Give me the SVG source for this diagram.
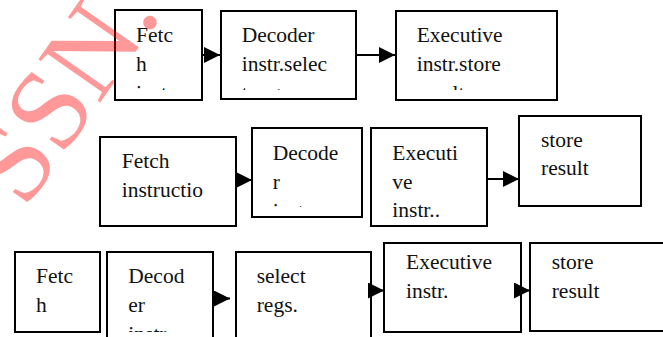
<svg xmlns="http://www.w3.org/2000/svg" width="663" height="337" viewBox="0 0 663 337">
<style>
.box{fill:#fff;stroke:#000;stroke-width:2}
.t{font-family:"Liberation Serif","Times New Roman",serif;font-size:21.5px;fill:#111}
.c{fill:none;stroke:#000;stroke-width:2}
.wm{font-family:"Liberation Serif","Times New Roman",serif;font-size:115px;fill:#ff0000;fill-opacity:0.4}
</style>
<defs>
<marker id="ah" markerUnits="userSpaceOnUse" markerWidth="16" markerHeight="16" refX="16" refY="8" orient="auto">
<path d="M0,0 L16,8 L0,16 Z" fill="#000"/>
</marker>
<clipPath id="c11"><rect x="116" y="11" width="85" height="79"/></clipPath>
<clipPath id="c12"><rect x="222" y="12" width="133" height="78"/></clipPath>
<clipPath id="c13"><rect x="397" y="12" width="159" height="78"/></clipPath>
<clipPath id="c21"><rect x="101" y="138" width="134" height="78"/></clipPath>
<clipPath id="c22"><rect x="253" y="129" width="108" height="78"/></clipPath>
<clipPath id="c23"><rect x="372" y="129" width="114" height="90"/></clipPath>
<clipPath id="c32"><rect x="108" y="253" width="104" height="79"/></clipPath>
</defs>
<rect width="663" height="337" fill="#fff"/>
<g id="row1-fetch">
<rect class="box" x="115" y="10" width="87" height="90"/>
<g clip-path="url(#c11)"><text class="t" x="136" y="41.7">Fetc</text><text class="t" x="136" y="70.7">h</text><text class="t" x="136" y="99.7">instr.</text></g>
</g>
<g id="row1-decoder">
<rect class="box" x="221" y="11" width="135" height="88"/>
<g clip-path="url(#c12)"><text class="t" x="241.7" y="41.7">Decoder</text><text class="t" x="241.7" y="70.7">instr.selec</text><text class="t" x="241.7" y="99.7">t regs.</text></g>
</g>
<g id="row1-executive">
<rect class="box" x="396" y="11" width="161" height="89"/>
<g clip-path="url(#c13)"><text class="t" x="416.7" y="41.7">Executive</text><text class="t" x="416.7" y="70.7">instr.store</text><text class="t" x="416.7" y="99.7">result</text></g>
</g>
<g id="row2-fetch">
<rect class="box" x="100" y="137" width="136" height="89"/>
<g clip-path="url(#c21)"><text class="t" x="121.7" y="168.3">Fetch</text><text class="t" x="121.7" y="196.5">instructio</text><text class="t" x="121.7" y="225.5">n</text></g>
</g>
<g id="row2-decoder">
<rect class="box" x="252" y="128" width="110" height="89"/>
<g clip-path="url(#c22)"><text class="t" x="272.7" y="160">Decode</text><text class="t" x="272.7" y="189.3">r</text><text class="t" x="272.7" y="217.5">instr..</text></g>
</g>
<g id="row2-executive">
<rect class="box" x="371" y="128" width="116" height="98"/>
<g clip-path="url(#c23)"><text class="t" x="392.3" y="160">Executi</text><text class="t" x="392.3" y="189">ve</text><text class="t" x="392.3" y="217">instr..</text></g>
</g>
<g id="row2-store">
<rect class="box" x="519" y="116" width="122" height="90"/>
<text class="t" x="541" y="146.7">store</text><text class="t" x="541" y="175">result</text>
</g>
<g id="row3-fetch">
<rect class="box" x="15" y="252" width="85" height="80"/>
<text class="t" x="36" y="283.3">Fetc</text><text class="t" x="36" y="312.3">h</text>
</g>
<g id="row3-decoder">
<rect class="box" x="107" y="252" width="106" height="100"/>
<g clip-path="url(#c32)"><text class="t" x="128.3" y="283.3">Decod</text><text class="t" x="128.3" y="312.3">er</text><text class="t" x="128.3" y="341.3">instr.</text></g>
</g>
<g id="row3-select">
<rect class="box" x="236" y="252" width="135" height="100"/>
<text class="t" x="256.7" y="283.3">select</text><text class="t" x="256.7" y="312.3">regs.</text>
</g>
<g id="row3-executive">
<rect class="box" x="384" y="243" width="137" height="89"/>
<text class="t" x="406" y="269">Executive</text><text class="t" x="406" y="297.5">instr.</text>
</g>
<g id="row3-store">
<rect class="box" x="530" y="243" width="140" height="88"/>
<text class="t" x="551.7" y="269">store</text><text class="t" x="551.7" y="297.5">result</text>
</g>
<g id="connectors">
<path class="c" d="M202,55 L220,55" marker-end="url(#ah)"/>
<path class="c" d="M356,55 L395,55" marker-end="url(#ah)"/>
<path class="c" d="M236,180 L252,180" marker-end="url(#ah)"/>
<path class="c" d="M487,179 L519,179" marker-end="url(#ah)"/>
<path class="c" d="M213,298.5 L230,298.5" marker-end="url(#ah)"/>
<path class="c" d="M371,290.5 L384,290.5" marker-end="url(#ah)"/>
<path class="c" d="M514,290.5 L530,290.5" marker-end="url(#ah)"/>
</g>
<g id="watermark">
<text class="wm" transform="translate(25,210) rotate(-55)">SSN.</text>
</g>
</svg>
